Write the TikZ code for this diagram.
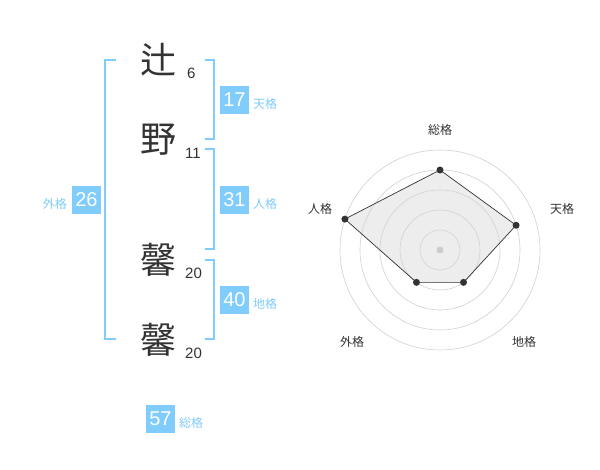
\documentclass[tikz,border=0pt]{standalone}
\usepackage{fontspec}
\setmainfont{Liberation Sans}
\newfontfamily\jp{Noto Sans CJK JP}
\usepackage{xcolor}
\usepackage{tikz}
\definecolor{kakublue}{RGB}{128,204,252}
\definecolor{kanjigray}{RGB}{51,51,51}
\tikzset{
  kakubox/.style={fill=kakublue,text=white,minimum width=29pt,minimum height=28pt,inner sep=0pt,font=\fontsize{20}{20}\selectfont},
  kakulabel/.style={text=kakublue,inner sep=0pt,font=\jp\fontsize{12}{12}\selectfont},
  kanji/.style={text=kanjigray,inner sep=0pt,font=\jp\fontsize{36}{36}\selectfont},
  kakusu/.style={text=kanjigray,inner sep=0pt,anchor=west,font=\fontsize{15}{15}\selectfont},
  bracket/.style={draw=kakublue,line width=2pt},
  ring/.style={draw=black!18,line width=0.6pt},
  radarlabel/.style={text=kanjigray,inner sep=0pt,font=\jp\fontsize{12}{12}\selectfont},
  vertex/.style={circle,fill=kanjigray,inner sep=0pt,minimum size=7pt}
}

\begin{document}
\begin{tikzpicture}[x=1pt,y=1pt]
    \useasboundingbox[fill=white] (0,0) rectangle (600,470);
    \node[kanji] (tsuji) at (158,410) {辻};
    \node[kanji] (no) at (158,330) {野};
    \node[kanji] (kaori1) at (158,210) {馨};
    \node[kanji] (kaori2) at (158,130) {馨};
    \node[kakusu] (n1) at (187,397) {6};
    \node[kakusu] (n2) at (185,317) {11};
    \node[kakusu] (n3) at (185,197) {20};
    \node[kakusu] (n4) at (185,117) {20};
    \draw[bracket] (116,410) -- (105,410) -- (105,131) -- (116,131);
    \draw[bracket] (205,410) -- (214,410) -- (214,331) -- (205,331);
    \draw[bracket] (205,321) -- (214,321) -- (214,221) -- (205,221);
    \draw[bracket] (205,210) -- (214,210) -- (214,131) -- (205,131);
    \node[kakubox] (ten) at (234.5,370) {17};
    \node[kakubox] (jin) at (234.5,270) {31};
    \node[kakubox] (chi) at (234.5,170) {40};
    \node[kakubox] (gai) at (86.5,270) {26};
    \node[kakubox] (sou) at (160.5,51) {57};
    \node[kakulabel,anchor=west] (tenlabel) at (253,366) {天格};
    \node[kakulabel,anchor=west] (jinlabel) at (253,266) {人格};
    \node[kakulabel,anchor=west] (chilabel) at (253,166) {地格};
    \node[kakulabel,anchor=east] (gailabel) at (67,266) {外格};
    \node[kakulabel,anchor=west] (soulabel) at (179,47) {総格};
    \begin{scope}[shift={(440,220)}]
      \coordinate (psou) at (90:80);
      \coordinate (pten) at (18:80);
      \coordinate (pchi) at (-54:40);
      \coordinate (pgai) at (-126:40);
      \coordinate (pjin) at (162:100);
      \fill[black!7] (psou) -- (pten) -- (pchi) -- (pgai) -- (pjin) -- cycle;
      \foreach \r in {20,40,...,100}
        \draw[ring] (0,0) circle (\r);
      \fill[black!20] (0,0) circle (3.5);
      \draw[line width=0.7pt,kanjigray] (psou) -- (pten) -- (pchi) -- (pgai) -- (pjin) -- cycle;
      \foreach \p in {psou,pten,pchi,pgai,pjin}
        \node[vertex] at (\p) {};
      \node[radarlabel] (rsou) at (0,120) {総格};
      \node[radarlabel] (rten) at (122,41) {天格};
      \node[radarlabel] (rjin) at (-120,41) {人格};
      \node[radarlabel] (rgai) at (-88,-92) {外格};
      \node[radarlabel] (rchi) at (84,-92) {地格};
    \end{scope}
\end{tikzpicture}
\end{document}
